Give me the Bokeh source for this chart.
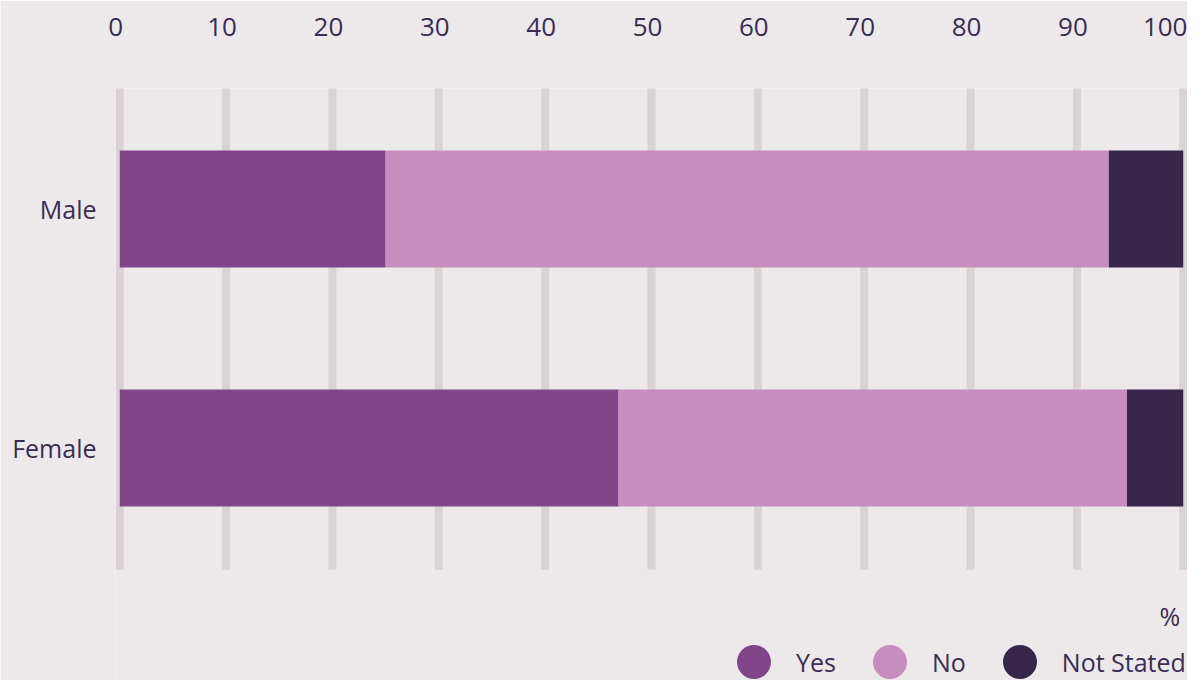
from bokeh.plotting import figure
from bokeh.models import (ColumnDataSource, Range1d, FixedTicker, LinearAxis,
                          Legend, LegendItem, Label)
from bokeh.embed import file_html
from bokeh.resources import INLINE

# ---- data ----
categories = ["Female", "Male"]
series = ["Yes", "No", "Not Stated"]
yes = [46.9, 25.0]
no = [47.8, 68.0]
not_stated = [5.3, 7.0]
ticks = [0, 10, 20, 30, 40, 50, 60, 70, 80, 90, 100]
unit_label = "%"

# ---- style ----
colors = ["#81458C", "#C78DBE", "#35264A"]
BG = "#EDE9EA"
GRID = "#DBD2D4"
TEXT = "#3B2B57"
FONT = "Open Sans"

pos = list(range(len(categories)))  # category index positions on the y scale
src = ColumnDataSource({"pos": pos, "cat": categories, "Yes": yes, "No": no,
                        "Not Stated": not_stated})

p = figure(width=1187, height=680,
           x_range=Range1d(-0.4, 100.4),
           y_range=Range1d(-0.973, 1.504),
           x_axis_location=None,
           output_backend="svg", toolbar_location=None,
           min_border_left=115, min_border_right=0,
           min_border_top=88, min_border_bottom=0)

p.background_fill_color = BG
p.border_fill_color = BG
p.outline_line_color = None
p.xgrid.visible = False
p.ygrid.visible = False

# tick-label scale, nudged a few pixels left as in the original layout
p.extra_x_ranges = {"labels": Range1d(-0.024, 100.776)}

# vertical grid bands (one per tick, spanning the category rows)
p.segment(x0=ticks, x1=ticks, y0=[pos[0] - 0.51] * len(ticks), y1=[pos[-1] + 0.51] * len(ticks),
          line_color=GRID, line_width=8, line_cap="butt", level="underlay")

p.hbar_stack(series, y="pos", height=0.49, fill_color=colors, line_color=None, source=src)

# axes
xaxis = LinearAxis(x_range_name="labels", ticker=FixedTicker(ticks=ticks))
p.add_layout(xaxis, "above")

for ax in (xaxis, p.yaxis[0]):
    ax.axis_line_color = None
    ax.major_tick_line_color = None
    ax.minor_tick_line_color = None
    ax.major_tick_out = 0
    ax.major_tick_in = 0
    ax.major_label_text_font = FONT
    ax.major_label_text_color = TEXT

xaxis.major_label_text_font_size = "26px"
xaxis.major_label_standoff = 53

p.yaxis[0].ticker = FixedTicker(ticks=pos)
p.yaxis[0].major_label_overrides = {i: c for i, c in zip(pos, categories)}
p.yaxis[0].major_label_text_font_size = "25px"
p.yaxis[0].major_label_standoff = 19

# unit label
p.add_layout(Label(x=ticks[-1], y=-0.705, text=unit_label, text_align="right",
                   text_baseline="middle", x_offset=-3, text_font=FONT,
                   text_font_size="25px", text_color=TEXT))

# legend (proxy markers with no visible position)
nan = float("nan")
items = []
for s, c in zip(series, colors):
    r = p.scatter(x=[nan], y=[nan], marker="circle", fill_color=c, line_color=None)
    items.append(LegendItem(label=s, renderers=[r]))

legend = Legend(items=items, orientation="horizontal", location=(596, -24),
                glyph_width=85, glyph_height=85, label_standoff=0, spacing=11,
                padding=0, margin=0, border_line_color=None, background_fill_alpha=0,
                label_text_font=FONT, label_text_font_size="25px", label_text_color=TEXT)
p.add_layout(legend)

open("out.html", "w").write(file_html(p, INLINE))
